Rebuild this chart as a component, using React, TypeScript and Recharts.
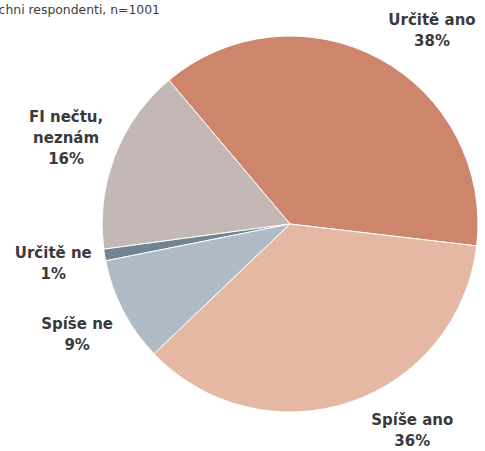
import React from "react";
import { PieChart, Pie, Cell } from "recharts";

const categories = ["Určitě ano", "FI nečtu, neznám", "Určitě ne", "Spíše ne", "Spíše ano"];
const labelLines = [["Určitě ano"], ["FI nečtu,", "neznám"], ["Určitě ne"], ["Spíše ne"], ["Spíše ano"]];
const values = [38, 16, 1, 9, 36];
const colors = ["#CD856C", "#C3B8B5", "#6F8593", "#AFBBC5", "#E4B8A3"];
const subtitle = "Všichni respondenti, n=1001";

const data = categories.map((name, i) => ({ name, value: values[i] }));

const W = 485;
const H = 451;
const RAD = Math.PI / 180;

const renderLabel = (props: any) => {
  const { cx, cy, midAngle, index } = props;
  const dist = 240;
  const lineH = 21;
  const lines = [...labelLines[index], `${values[index]}%`];
  const blockH = (lines.length - 1) * lineH;
  let x = cx + dist * Math.cos(-midAngle * RAD);
  let y = cy + dist * Math.sin(-midAngle * RAD);
  const topLimit = 20 + blockH / 2;
  const botLimit = H - 10 - blockH / 2;
  if (y < topLimit || y > botLimit) {
    y = Math.max(topLimit, Math.min(botLimit, y));
    const dy = y - cy;
    const dx = Math.sqrt(Math.max(0, dist * dist - dy * dy));
    x = cx + (Math.cos(-midAngle * RAD) >= 0 ? dx : -dx);
  }
  return (
    <text
      key={`lbl-${index}`}
      x={x}
      y={y - blockH / 2}
      textAnchor="middle"
      dominantBaseline="central"
      fill="#3a3a3a"
      fontFamily="'DejaVu Sans', Verdana, sans-serif"
      fontWeight="bold"
      fontSize={15}
    >
      {lines.map((l, i) => (
        <tspan key={i} x={x} dy={i === 0 ? 0 : lineH}>
          {l}
        </tspan>
      ))}
    </text>
  );
};

export default function App() {
  return (
    <div style={{ position: "absolute", left: 0, top: 0, width: W, height: H, background: "#fff" }}>
      <PieChart width={W} height={H} margin={{ top: 0, right: 0, bottom: 0, left: 0 }}>
        <text
          x={160}
          y={14}
          textAnchor="end"
          fill="#404040"
          fontFamily="'DejaVu Sans', Verdana, sans-serif"
          fontSize={12.4}
        >
          {subtitle}
        </text>
        <Pie
          data={data}
          dataKey="value"
          nameKey="name"
          cx={290}
          cy={224}
          outerRadius={188}
          startAngle={-6.7}
          endAngle={353.3}
          stroke="#ffffff"
          strokeWidth={1}
          label={renderLabel}
          labelLine={false}
          isAnimationActive={false}
        >
          {data.map((d, i) => (
            <Cell key={d.name} fill={colors[i]} />
          ))}
        </Pie>
      </PieChart>
    </div>
  );
}
